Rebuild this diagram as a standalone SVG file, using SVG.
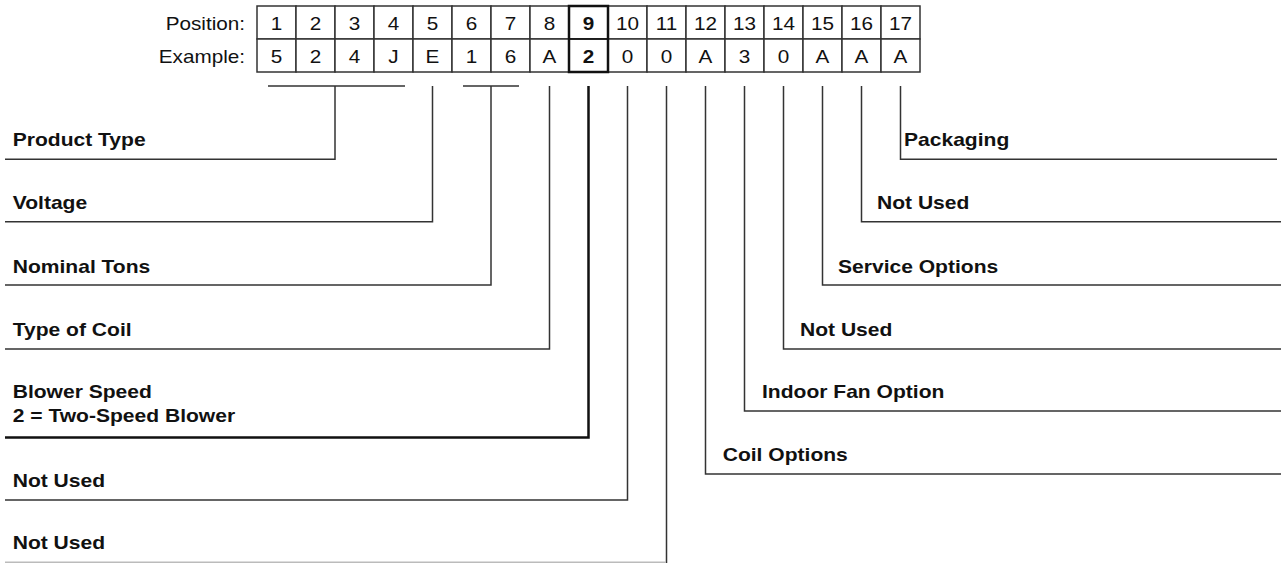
<svg xmlns="http://www.w3.org/2000/svg" width="1281" height="563" viewBox="0 0 1281 563">
<style>
.cell{fill:#fff;stroke:#333;stroke-width:1.5}
.hl{fill:none;stroke:#111;stroke-width:2.5}
.t{font-family:"Liberation Sans",Arial,sans-serif;font-size:18px;fill:#111}
.c{text-anchor:middle}
.r{text-anchor:end}
.b{font-weight:bold}
.ln{fill:none;stroke:#333;stroke-width:1.5}
.thick{fill:none;stroke:#111;stroke-width:2.5}
.faint{fill:none;stroke:#bbb;stroke-width:1.5}
</style>
<rect width="1281" height="563" fill="#fff"/>
<g id="table">
<g class="cell">
<rect x="257" y="6" width="39" height="33"/><rect x="296" y="6" width="39" height="33"/><rect x="335" y="6" width="39" height="33"/><rect x="374" y="6" width="39" height="33"/><rect x="413" y="6" width="39" height="33"/><rect x="452" y="6" width="39" height="33"/><rect x="491" y="6" width="39" height="33"/><rect x="530" y="6" width="39" height="33"/><rect x="569" y="6" width="39" height="33"/><rect x="608" y="6" width="39" height="33"/><rect x="647" y="6" width="39" height="33"/><rect x="686" y="6" width="39" height="33"/><rect x="725" y="6" width="39" height="33"/><rect x="764" y="6" width="39" height="33"/><rect x="803" y="6" width="39" height="33"/><rect x="842" y="6" width="39" height="33"/><rect x="881" y="6" width="39" height="33"/>
<rect x="257" y="39" width="39" height="33"/><rect x="296" y="39" width="39" height="33"/><rect x="335" y="39" width="39" height="33"/><rect x="374" y="39" width="39" height="33"/><rect x="413" y="39" width="39" height="33"/><rect x="452" y="39" width="39" height="33"/><rect x="491" y="39" width="39" height="33"/><rect x="530" y="39" width="39" height="33"/><rect x="569" y="39" width="39" height="33"/><rect x="608" y="39" width="39" height="33"/><rect x="647" y="39" width="39" height="33"/><rect x="686" y="39" width="39" height="33"/><rect x="725" y="39" width="39" height="33"/><rect x="764" y="39" width="39" height="33"/><rect x="803" y="39" width="39" height="33"/><rect x="842" y="39" width="39" height="33"/><rect x="881" y="39" width="39" height="33"/>
</g>
<rect class="hl" x="569" y="6" width="39" height="66"/>
<line class="hl" x1="569" y1="39" x2="608" y2="39" style="stroke-width:1.5"/>
<text class="t r" transform="translate(245,29.5) scale(1.15,1)">Position:</text>
<text class="t r" transform="translate(245,62.5) scale(1.15,1)">Example:</text>
<g class="t c">
<text transform="translate(276.5,29.5) scale(1.15,1)">1</text>
<text transform="translate(315.5,29.5) scale(1.15,1)">2</text>
<text transform="translate(354.5,29.5) scale(1.15,1)">3</text>
<text transform="translate(393.5,29.5) scale(1.15,1)">4</text>
<text transform="translate(432.5,29.5) scale(1.15,1)">5</text>
<text transform="translate(471.5,29.5) scale(1.15,1)">6</text>
<text transform="translate(510.5,29.5) scale(1.15,1)">7</text>
<text transform="translate(549.5,29.5) scale(1.15,1)">8</text>
<text class="b" transform="translate(588.5,29.5) scale(1.15,1)">9</text>
<text transform="translate(627.5,29.5) scale(1.15,1)">10</text>
<text transform="translate(666.5,29.5) scale(1.15,1)">11</text>
<text transform="translate(705.5,29.5) scale(1.15,1)">12</text>
<text transform="translate(744.5,29.5) scale(1.15,1)">13</text>
<text transform="translate(783.5,29.5) scale(1.15,1)">14</text>
<text transform="translate(822.5,29.5) scale(1.15,1)">15</text>
<text transform="translate(861.5,29.5) scale(1.15,1)">16</text>
<text transform="translate(900.5,29.5) scale(1.15,1)">17</text>
<text transform="translate(276.5,62.5) scale(1.15,1)">5</text>
<text transform="translate(315.5,62.5) scale(1.15,1)">2</text>
<text transform="translate(354.5,62.5) scale(1.15,1)">4</text>
<text transform="translate(393.5,62.5) scale(1.15,1)">J</text>
<text transform="translate(432.5,62.5) scale(1.15,1)">E</text>
<text transform="translate(471.5,62.5) scale(1.15,1)">1</text>
<text transform="translate(510.5,62.5) scale(1.15,1)">6</text>
<text transform="translate(549.5,62.5) scale(1.15,1)">A</text>
<text class="b" transform="translate(588.5,62.5) scale(1.15,1)">2</text>
<text transform="translate(627.5,62.5) scale(1.15,1)">0</text>
<text transform="translate(666.5,62.5) scale(1.15,1)">0</text>
<text transform="translate(705.5,62.5) scale(1.15,1)">A</text>
<text transform="translate(744.5,62.5) scale(1.15,1)">3</text>
<text transform="translate(783.5,62.5) scale(1.15,1)">0</text>
<text transform="translate(822.5,62.5) scale(1.15,1)">A</text>
<text transform="translate(861.5,62.5) scale(1.15,1)">A</text>
<text transform="translate(900.5,62.5) scale(1.15,1)">A</text>
</g>
</g>
<g id="connectors">
<path class="ln" d="M268,86H405M335,86V159.3H5"/>
<path class="ln" d="M432.5,86V221.7H5"/>
<path class="ln" d="M463,86H519M491,86V285H5"/>
<path class="ln" d="M549.5,86V349H5"/>
<path class="thick" d="M588.5,86V437.5H5"/>
<path class="ln" d="M627.5,86V500H5"/>
<path class="ln" d="M666.5,86V563"/>
<path class="faint" d="M5,562.3H666"/>
<path class="ln" d="M705.5,86V474H1281"/>
<path class="ln" d="M744.5,86V411H1281"/>
<path class="ln" d="M783.5,86V349H1281"/>
<path class="ln" d="M822.5,86V285H1281"/>
<path class="ln" d="M861.5,86V221.7H1281"/>
<path class="ln" d="M900.5,86V159.3H1277"/>
</g>
<g id="label-product-type"><text class="t b" transform="translate(12.7,145.5) scale(1.17,1)">Product Type</text></g>
<g id="label-voltage"><text class="t b" transform="translate(12.7,209.3) scale(1.17,1)">Voltage</text></g>
<g id="label-nominal-tons"><text class="t b" transform="translate(12.7,272.7) scale(1.17,1)">Nominal Tons</text></g>
<g id="label-type-of-coil"><text class="t b" transform="translate(12.7,335.7) scale(1.17,1)">Type of Coil</text></g>
<g id="label-blower-speed"><text class="t b" transform="translate(12.7,398.3) scale(1.17,1)">Blower Speed</text><text class="t b" transform="translate(12.7,422.3) scale(1.17,1)">2 = Two-Speed Blower</text></g>
<g id="label-not-used-10"><text class="t b" transform="translate(12.7,486.7) scale(1.17,1)">Not Used</text></g>
<g id="label-not-used-11"><text class="t b" transform="translate(12.7,549) scale(1.17,1)">Not Used</text></g>
<g id="label-coil-options"><text class="t b" transform="translate(722.7,460.5) scale(1.17,1)">Coil Options</text></g>
<g id="label-indoor-fan"><text class="t b" transform="translate(762,397.5) scale(1.17,1)">Indoor Fan Option</text></g>
<g id="label-not-used-14"><text class="t b" transform="translate(800,335.5) scale(1.17,1)">Not Used</text></g>
<g id="label-service-options"><text class="t b" transform="translate(838,272.5) scale(1.17,1)">Service Options</text></g>
<g id="label-not-used-16"><text class="t b" transform="translate(877,209.3) scale(1.17,1)">Not Used</text></g>
<g id="label-packaging"><text class="t b" transform="translate(904,145.5) scale(1.17,1)">Packaging</text></g>
</svg>
